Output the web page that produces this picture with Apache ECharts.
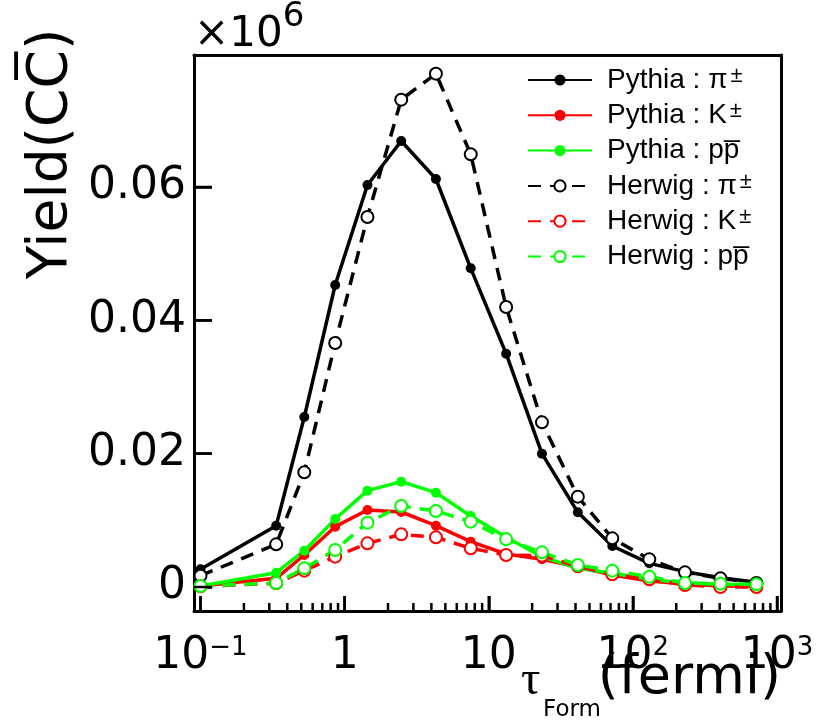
<!DOCTYPE html>
<html>
<head>
<meta charset="utf-8">
<script src="https://cdn.jsdelivr.net/npm/echarts@6/dist/echarts.min.js"></script>
<style>
  html, body { margin: 0; padding: 0; background: #fff; }
  #chart { width: 818px; height: 721px; }
</style>
</head>
<body>
<div id="chart"></div>
<script>
// Formation time bins (fermi)
const tauForm = [0.1, 0.335, 0.525, 0.86, 1.44, 2.47, 4.3, 7.5, 13.2, 23.4, 41.5, 72, 130, 230, 405, 720];

// Yields (x10^6) per generator and species
const pythiaPi = [0.00265, 0.0092, 0.0255, 0.0453, 0.0603, 0.0669, 0.0612, 0.0478, 0.0350, 0.0200, 0.0112, 0.00615, 0.00355, 0.0023, 0.0014, 0.0007];
const pythiaK  = [0.00015, 0.0013, 0.0048, 0.00905, 0.01155, 0.01125, 0.0092, 0.0068, 0.00495, 0.00415, 0.0030, 0.0018, 0.0009, 0.00045, 0.00015, 0.0001];
const pythiaP  = [0.00015, 0.00215, 0.00545, 0.0102, 0.01445, 0.0158, 0.01415, 0.01065, 0.00745, 0.00455, 0.0028, 0.00205, 0.00115, 0.0006, 0.0004, 0.0003];
const herwigPi = [0.0017, 0.0064, 0.0172, 0.0366, 0.0555, 0.0731, 0.0770, 0.0649, 0.0420, 0.0247, 0.01355, 0.0073, 0.00415, 0.0022, 0.0013, 0.0006];
const herwigK  = [0.0001, 0.00055, 0.00245, 0.00455, 0.00655, 0.0079, 0.00745, 0.0058, 0.0048, 0.0047, 0.0031, 0.0019, 0.00115, 0.0003, 0.0, 0.0];
const herwigP  = [0.00015, 0.0006, 0.0028, 0.00555, 0.00965, 0.01215, 0.0114, 0.0098, 0.00715, 0.0052, 0.0033, 0.00245, 0.00155, 0.0006, 0.0005, 0.0004];

// Axis ranges and tick positions
const xRange = [0.09013, 1066];
const yRange = [-0.0036, 0.0798];
const xMajorTicks = [0.1, 1, 10, 100, 1000];
const xMinorTicks = [0.2, 0.3, 0.4, 0.5, 0.6, 0.7, 0.8, 0.9,
                     2, 3, 4, 5, 6, 7, 8, 9,
                     20, 30, 40, 50, 60, 70, 80, 90,
                     200, 300, 400, 500, 600, 700, 800, 900];
const yMajorTicks = [0, 0.02, 0.04, 0.06];

const legendNames = ['Pythia : π±', 'Pythia : K±', 'Pythia : pp̄', 'Herwig : π±', 'Herwig : K±', 'Herwig : pp̄'];
const legendRich = {
  'Pythia : π±': 'Pythia : π{sup|±}',
  'Pythia : K±': 'Pythia : K{sup|±}',
  'Pythia : pp̄': 'Pythia : pp\u0305',
  'Herwig : π±': 'Herwig : π{sup|±}',
  'Herwig : K±': 'Herwig : K{sup|±}',
  'Herwig : pp̄': 'Herwig : pp\u0305'
};

const gridBox = { left: 194, top: 55, right: 37, bottom: 110 };
const frameLine = { show: true, onZero: false, lineStyle: { color: '#000', width: 3 } };

function curve(name, values, color, herwig) {
  return {
    name: name,
    type: 'line',
    data: tauForm.map((t, i) => [t, values[i]]),
    symbol: herwig ? 'emptyCircle' : 'circle',
    symbolSize: herwig ? 12 : 10,
    showAllSymbol: true,
    lineStyle: { color: color, width: 3.5, type: herwig ? [13, 9] : 'solid' },
    itemStyle: { color: color, borderColor: color, borderWidth: herwig ? 3 : 0 },
    emphasis: { disabled: true },
    z: herwig ? 3 : 2
  };
}

const chart = echarts.init(document.getElementById('chart'), null, { renderer: 'canvas' });

// Plot-area mapping that mirrors the log x axis and linear y axis of the grid
const plotW = chart.getWidth() - gridBox.left - gridBox.right;
const plotH = chart.getHeight() - gridBox.top - gridBox.bottom;
const lx0 = Math.log10(xRange[0]), lx1 = Math.log10(xRange[1]);
function xPix(v) { return gridBox.left + plotW * (Math.log10(v) - lx0) / (lx1 - lx0); }
function yPix(v) { return gridBox.top + plotH * (yRange[1] - v) / (yRange[1] - yRange[0]); }

function tickBar(x, y, w, h) {
  return {
    type: 'rect', silent: true, z: 100,
    shape: { x: x, y: y, width: w, height: h },
    style: { fill: '#000' }
  };
}

// Inward ticks along the bottom and left edges
const tickGraphics = [];
const yBottom = yPix(yRange[0]);
const xLeft = xPix(xRange[0]);
xMajorTicks.forEach(function (v) { tickGraphics.push(tickBar(xPix(v) - 1.25, yBottom - 15, 2.5, 15)); });
xMinorTicks.forEach(function (v) { tickGraphics.push(tickBar(xPix(v) - 1.25, yBottom - 8, 2.5, 8)); });
yMajorTicks.forEach(function (v) { tickGraphics.push(tickBar(xLeft, yPix(v) - 1.25, 18, 2.5)); });

// Titles and the x10^6 multiplier
const textGraphics = [
  {
    type: 'text', left: 194, top: 0,
    style: {
      text: '{a|×10}{b|6}',
      rich: {
        a: { fontFamily: 'DejaVu Sans', fontSize: 42, lineHeight: 42, padding: [14, 0, 0, 0], verticalAlign: 'top', fill: '#000' },
        b: { fontFamily: 'DejaVu Sans', fontSize: 34, lineHeight: 34, verticalAlign: 'top', fill: '#000' }
      }
    }
  },
  {
    type: 'text',
    x: 52, y: 154, rotation: Math.PI / 2,
    style: {
      text: 'Yield(CC\u0305)',
      font: '55px "DejaVu Sans"',
      fill: '#000', align: 'center', verticalAlign: 'middle'
    }
  },
  {
    type: 'text', x: 521, y: 681,
    style: { text: 'τ', font: '48px "Liberation Serif"', fill: '#000', align: 'left', verticalAlign: 'middle' }
  },
  {
    type: 'text', x: 543, y: 710,
    style: { text: 'Form', font: '23px "DejaVu Sans"', fill: '#000', align: 'left', verticalAlign: 'middle' }
  },
  {
    type: 'text', x: 781, y: 679,
    style: { text: '(fermi)', font: '54px "DejaVu Sans"', fill: '#000', align: 'right', verticalAlign: 'middle' }
  }
];

chart.setOption({
  animation: false,
  grid: gridBox,
  xAxis: [
    {
      type: 'log', logBase: 10, min: xRange[0], max: xRange[1],
      axisLine: frameLine,
      splitLine: { show: false },
      axisTick: { show: true, inside: true, length: 15, lineStyle: { color: '#000', width: 2.5 } },
      axisLabel: {
        showMinLabel: false, showMaxLabel: false,
        margin: 24,
        color: '#000', fontFamily: 'DejaVu Sans', fontSize: 44,
        formatter: function (v) {
          const e = Math.round(Math.log10(v));
          if (e === 0) return '1';
          if (e === 1) return '10';
          return '10{sup|' + (e < 0 ? '\u2212' : '') + Math.abs(e) + '}';
        },
        rich: {
          sup: { fontFamily: 'DejaVu Sans', fontSize: 26, verticalAlign: 'top', color: '#000' }
        }
      }
    },
    {
      // top edge of the frame
      type: 'log', logBase: 10, min: xRange[0], max: xRange[1],
      position: 'top',
      axisLine: frameLine,
      splitLine: { show: false }, axisTick: { show: false }, axisLabel: { show: false }
    }
  ],
  yAxis: [
    {
      type: 'value', min: yRange[0], max: yRange[1], splitNumber: 4,
      axisLine: frameLine,
      splitLine: { show: false },
      axisTick: { show: true, inside: true, length: 18, lineStyle: { color: '#000', width: 2.5 } },
      axisLabel: {
        showMinLabel: false, showMaxLabel: false,
        margin: 8,
        color: '#000', fontFamily: 'DejaVu Sans', fontSize: 44,
        formatter: function (v) { return Math.abs(v) < 1e-9 ? '0' : v.toFixed(2); }
      }
    },
    {
      // right edge of the frame
      type: 'value', min: yRange[0], max: yRange[1],
      position: 'right',
      axisLine: frameLine,
      splitLine: { show: false }, axisTick: { show: false }, axisLabel: { show: false }
    }
  ],
  legend: {
    data: legendNames,
    orient: 'vertical',
    left: 527, top: 65,
    padding: 0,
    itemWidth: 64, itemHeight: 14, itemGap: 5.3,
    selectedMode: false,
    formatter: function (name) { return legendRich[name]; },
    textStyle: {
      color: '#000', fontFamily: 'Liberation Sans', fontSize: 28, lineHeight: 30,
      padding: [0, 0, 0, 10],
      rich: {
        sup: { fontFamily: 'Liberation Sans', fontSize: 22, verticalAlign: 'top', lineHeight: 30, padding: [0, 0, 0, 3] }
      }
    }
  },
  graphic: textGraphics.concat(tickGraphics),
  series: [
    curve('Pythia : π±', pythiaPi, '#000000', false),
    curve('Pythia : K±', pythiaK, '#ff0000', false),
    curve('Pythia : pp̄', pythiaP, '#00ff00', false),
    curve('Herwig : π±', herwigPi, '#000000', true),
    curve('Herwig : K±', herwigK, '#ff0000', true),
    curve('Herwig : pp̄', herwigP, '#00ff00', true)
  ]
});
</script>
</body>
</html>
